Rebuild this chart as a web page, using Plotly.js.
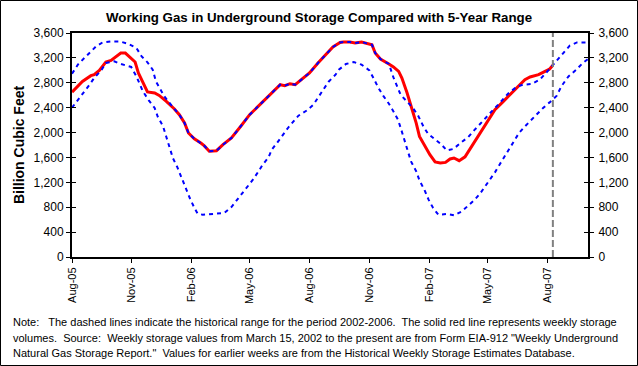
<!DOCTYPE html>
<html>
<head>
<meta charset="utf-8">
<script src="https://cdn.plot.ly/plotly-3.0.1.min.js"></script>
<style>html,body{margin:0;padding:0;background:#fff;}#chart{width:638px;height:366px;}</style>
</head>
<body>
<div id="chart"></div>
<script>
// Weekly working gas in storage (Bcf)
const redDates = ['2005-08-01','2005-08-07','2005-08-17','2005-08-30','2005-09-04','2005-09-12','2005-09-22','2005-09-30','2005-10-08','2005-10-15','2005-10-22','2005-10-31','2005-11-06','2005-11-11','2005-11-19','2005-11-25','2005-12-06','2005-12-13','2005-12-24','2006-01-05','2006-01-13','2006-01-21','2006-01-27','2006-02-05','2006-02-15','2006-02-20','2006-02-28','2006-03-11','2006-03-21','2006-04-03','2006-04-18','2006-05-01','2006-05-14','2006-05-30','2006-06-09','2006-06-17','2006-06-24','2006-07-02','2006-07-10','2006-07-20','2006-08-01','2006-08-14','2006-08-27','2006-09-06','2006-09-17','2006-09-22','2006-10-02','2006-10-10','2006-10-20','2006-10-28','2006-11-05','2006-11-10','2006-11-18','2006-12-01','2006-12-08','2006-12-16','2006-12-21','2006-12-29','2007-01-06','2007-01-12','2007-01-17','2007-01-24','2007-02-02','2007-02-10','2007-02-18','2007-02-26','2007-03-05','2007-03-11','2007-03-19','2007-03-28','2007-04-05','2007-04-12','2007-04-23','2007-05-03','2007-05-13','2007-05-26','2007-06-05','2007-06-15','2007-06-28','2007-07-06','2007-07-19','2007-07-29','2007-08-05','2007-08-10'];
const redValues = [2650,2716,2822,2914,2930,3000,3134,3160,3224,3278,3278,3198,3134,2957,2797,2652,2636,2597,2501,2383,2287,2153,1993,1901,1832,1790,1700,1708,1805,1912,2110,2287,2420,2581,2689,2769,2753,2785,2769,2850,2957,3118,3262,3375,3449,3455,3455,3439,3455,3428,3412,3278,3182,3102,3054,2983,2877,2636,2367,2153,1938,1805,1644,1527,1511,1520,1575,1591,1548,1610,1740,1858,2046,2207,2367,2501,2608,2716,2850,2893,2930,2983,3022,3080];

// 5-year range, upper bound
const maxDates = ['2005-08-01','2005-08-10','2005-08-20','2005-08-28','2005-09-07','2005-09-17','2005-09-30','2005-10-13','2005-10-26','2005-11-08','2005-11-16','2005-11-25','2005-12-03','2005-12-08','2005-12-16','2005-12-21','2006-01-05','2006-01-13','2006-01-21','2006-01-27','2006-02-05','2006-02-15','2006-02-20','2006-02-28','2006-03-11','2006-03-21','2006-04-03','2006-04-18','2006-05-01','2006-05-14','2006-05-30','2006-06-09','2006-06-17','2006-06-24','2006-07-02','2006-07-10','2006-07-20','2006-08-01','2006-08-14','2006-08-27','2006-09-06','2006-09-17','2006-09-22','2006-10-02','2006-10-10','2006-10-20','2006-10-28','2006-11-05','2006-11-10','2006-11-18','2006-12-01','2006-12-08','2006-12-19','2006-12-30','2007-01-07','2007-01-15','2007-01-23','2007-01-30','2007-02-08','2007-02-19','2007-02-28','2007-03-10','2007-03-23','2007-04-02','2007-04-12','2007-04-28','2007-05-08','2007-05-18','2007-06-02','2007-06-15','2007-06-25','2007-07-08','2007-07-21','2007-08-03','2007-08-16','2007-08-26','2007-09-05','2007-09-16','2007-10-03'];
const maxValues = [2946,3091,3198,3278,3385,3449,3465,3465,3428,3359,3224,3128,3010,2822,2678,2581,2383,2287,2153,1993,1901,1832,1790,1700,1708,1805,1912,2110,2287,2420,2581,2689,2769,2753,2785,2769,2850,2957,3118,3262,3375,3449,3455,3455,3439,3455,3428,3412,3278,3182,3102,2886,2608,2475,2395,2271,2099,1982,1912,1816,1713,1736,1848,1928,2046,2234,2340,2448,2624,2732,2769,2780,2850,3000,3160,3278,3396,3449,3449];

// 5-year range, lower bound
const minDates = ['2005-08-01','2005-08-12','2005-08-20','2005-08-28','2005-09-04','2005-09-15','2005-09-22','2005-10-05','2005-10-15','2005-10-31','2005-11-08','2005-11-18','2005-11-27','2005-12-06','2005-12-11','2005-12-19','2005-12-24','2005-12-29','2006-01-03','2006-01-10','2006-01-16','2006-01-23','2006-01-29','2006-02-04','2006-02-10','2006-02-18','2006-03-11','2006-03-23','2006-04-03','2006-04-12','2006-04-20','2006-04-28','2006-05-06','2006-05-14','2006-05-21','2006-05-30','2006-06-04','2006-06-12','2006-06-21','2006-06-30','2006-07-15','2006-07-28','2006-08-07','2006-08-14','2006-08-22','2006-08-30','2006-09-10','2006-09-15','2006-09-26','2006-10-08','2006-10-20','2006-11-01','2006-11-08','2006-11-15','2006-11-23','2006-12-01','2006-12-08','2006-12-15','2006-12-20','2006-12-25','2006-12-30','2007-01-04','2007-01-12','2007-01-17','2007-01-25','2007-01-31','2007-02-07','2007-02-15','2007-02-28','2007-03-11','2007-03-23','2007-04-02','2007-04-12','2007-04-20','2007-04-28','2007-05-05','2007-05-13','2007-05-20','2007-05-27','2007-06-04','2007-06-11','2007-06-19','2007-06-28','2007-07-07','2007-07-15','2007-07-26','2007-08-05','2007-08-16','2007-08-23','2007-09-03','2007-09-15','2007-09-25','2007-10-03'];
const minValues = [2400,2544,2661,2769,2877,3000,3118,3144,3102,3054,2903,2661,2517,2395,2250,2099,1928,1761,1591,1440,1279,1109,948,813,696,680,691,707,803,921,1029,1135,1242,1366,1483,1601,1725,1832,1966,2089,2271,2356,2448,2565,2689,2813,2930,3010,3102,3134,3091,3000,2861,2716,2581,2464,2340,2207,2046,1885,1697,1536,1376,1231,1070,921,787,680,691,669,733,824,921,1017,1135,1242,1360,1483,1601,1736,1858,1993,2099,2195,2271,2395,2485,2592,2742,2903,3010,3118,3180];

const xRange = ['2005-08-01','2007-10-03'];
const yTicks = [0,400,800,1200,1600,2000,2400,2800,3200,3600];
const titleText = 'Working Gas in Underground Storage Compared with 5-Year Range';
const yTitleText = 'Billion Cubic Feet';
const noteLines = [
  'Note:   The dashed lines indicate the historical range for the period 2002-2006.  The solid red line represents weekly storage',
  'volumes.  Source:  Weekly storage values from March 15, 2002 to the present are from Form EIA-912 "Weekly Underground',
  'Natural Gas Storage Report."  Values for earlier weeks are from the Historical Weekly Storage Estimates Database.'
];
const lastWeek = redDates[redDates.length - 1];

const FONT = 'Arial, "Liberation Sans", sans-serif';

const traces = [
  {x: redDates, y: redValues, type: 'scatter', mode: 'lines', yaxis: 'y',
   line: {color: '#FF0000', width: 3}, hoverinfo: 'skip'},
  {x: minDates, y: minValues, type: 'scatter', mode: 'lines', yaxis: 'y2',
   line: {color: '#0000FF', width: 2, dash: '4px,4px'}, hoverinfo: 'skip'},
  {x: maxDates, y: maxValues, type: 'scatter', mode: 'lines', yaxis: 'y2',
   line: {color: '#0000FF', width: 2, dash: '4px,4px'}, hoverinfo: 'skip'}
];

const W = 638, H = 366, L = 72, R = 50, T = 33, B = 109;
const pw = W - L - R, ph = H - T - B;
const px = v => (v - L) / pw;
const py = v => (H - B - v) / ph;

const yAxisCommon = {
  range: [0, 3600], tickvals: yTicks, tickformat: ',d',
  showgrid: false, zeroline: false, showline: true, linewidth: 2, linecolor: '#000',
  ticklen: 4, tickwidth: 1, tickcolor: '#000',
  tickfont: {family: FONT, size: 12, color: '#000'}, fixedrange: true
};

const layout = {
  width: W, height: H,
  margin: {l: L, r: R, t: T, b: B},
  paper_bgcolor: '#fff', plot_bgcolor: '#fff',
  font: {family: FONT, size: 12, color: '#000'},
  showlegend: false,
  title: {text: '<b>' + titleText + '</b>', font: {family: FONT, size: 13.3, color: '#000'},
          x: 0.5, xanchor: 'center', y: 1 - 17 / H, yanchor: 'middle'},
  xaxis: {
    type: 'date', range: xRange, tick0: '2005-08-01', dtick: 'M3', tickformat: '%b-%y',
    tickangle: -90, ticks: 'outside', ticklen: 4, tickwidth: 1, tickcolor: '#000',
    showline: true, linewidth: 2, linecolor: '#000', mirror: true,
    showgrid: false, zeroline: false, tickfont: {family: FONT, size: 11, color: '#000'}, fixedrange: true
  },
  yaxis: Object.assign({}, yAxisCommon, {
    ticks: 'outside', mirror: 'ticks',
    title: {text: '<b>' + yTitleText + '</b>', font: {family: FONT, size: 14, color: '#000'}, standoff: 6}
  }),
  yaxis2: Object.assign({}, yAxisCommon, {
    overlaying: 'y', side: 'right', anchor: 'x', ticks: 'inside', mirror: 'ticks',
    ticklabelstandoff: 6
  }),
  shapes: [
    {type: 'line', xref: 'x', yref: 'paper', x0: lastWeek, x1: lastWeek, y0: 0, y1: 1,
     line: {color: '#808080', width: 2, dash: '7px,3px'}},
    {type: 'rect', xref: 'paper', yref: 'paper', x0: px(0.5), x1: px(W - 0.5), y0: py(H - 0.5), y1: py(0.5),
     line: {color: '#000', width: 1}, fillcolor: 'rgba(0,0,0,0)'}
  ],
  annotations: noteLines.map((t, i) => ({
    text: t, xref: 'paper', yref: 'paper', x: px(11), y: py(322 + i * 15.5),
    xanchor: 'left', yanchor: 'middle', showarrow: false, align: 'left',
    font: {family: FONT, size: 11, color: '#000'}
  }))
};

Plotly.newPlot('chart', traces, layout, {staticPlot: true, displayModeBar: false});
</script>
</body>
</html>
